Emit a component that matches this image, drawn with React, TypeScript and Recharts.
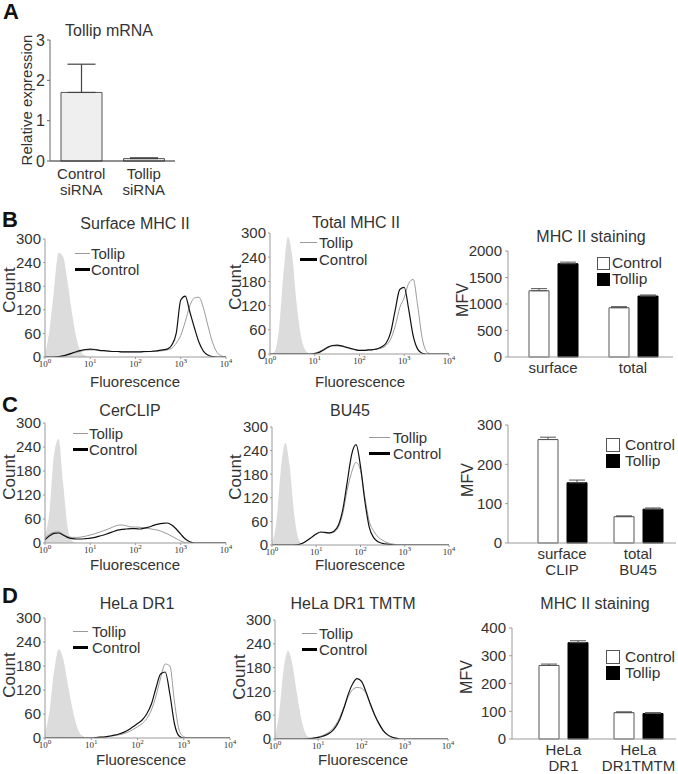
import React from "react";
import {
  ComposedChart,
  Area,
  Line,
  XAxis,
  YAxis,
  BarChart,
  Bar,
  ErrorBar,
} from "recharts";

const FONT = '"Liberation Sans", Arial, Helvetica, sans-serif';
const INK = "#333";
const AXIS = "#9a9a9a";

// fluorescence grid, 10 steps per decade
const FLUOR = [
  1, 1.26, 1.58, 2, 2.51, 3.16, 3.98, 5.01, 6.31, 7.94,
  10, 12.6, 15.8, 20, 25.1, 31.6, 39.8, 50.1, 63.1, 79.4,
  100, 126, 158, 200, 251, 316, 398, 501, 631, 794,
  1000, 1259, 1585, 1995, 2512, 3162, 3981, 5012, 6310, 7943, 10000,
];
const LOG_TICKS = [1, 10, 100, 1000, 10000];
const COUNT_TICKS = [0, 60, 120, 180, 240, 300];

// B: surface MHC II
const B_SURF_ISO = [5, 70, 170, 265, 255, 190, 110, 45, 12, 3, 0, 0, 0, 0, 0, 0, 0, 0, 0, 0, 0, 0, 0, 0, 0, 0, 0, 0, 0, 0, 0, 0, 0, 0, 0, 0, 0, 0, 0, 0, 0];
const B_SURF_TOL = [0, 0, 0, 1, 3, 6, 9, 12, 15, 17, 18, 18, 17, 16, 15, 14, 14, 13, 13, 13, 13, 13, 13, 14, 14, 15, 16, 18, 22, 35, 55, 90, 130, 150, 152, 125, 80, 38, 12, 3, 0];
const B_SURF_CTRL = [0, 0, 0, 1, 3, 6, 10, 14, 17, 19, 20, 19, 17, 16, 15, 14, 14, 13, 13, 13, 13, 13, 14, 14, 15, 16, 18, 20, 30, 60, 145, 155, 115, 75, 38, 15, 5, 1, 0, 0, 0];
// B: total MHC II
const B_TOT_ISO = [0, 5, 60, 200, 290, 240, 120, 40, 8, 0, 0, 0, 0, 0, 0, 0, 0, 0, 0, 0, 0, 0, 0, 0, 0, 0, 0, 0, 0, 0, 0, 0, 0, 0, 0, 0, 0, 0, 0, 0, 0];
const B_TOT_TOL = [0, 0, 0, 0, 0, 0, 0, 0, 0, 0, 2, 6, 12, 18, 20, 20, 19, 16, 13, 11, 9, 9, 10, 11, 12, 15, 22, 38, 70, 115, 140, 175, 185, 120, 40, 6, 0, 0, 0, 0, 0];
const B_TOT_CTRL = [0, 0, 0, 0, 0, 0, 0, 0, 0, 0, 1, 4, 10, 17, 21, 22, 20, 17, 14, 11, 9, 9, 10, 11, 13, 18, 28, 55, 110, 160, 165, 110, 45, 12, 2, 0, 0, 0, 0, 0, 0];
// C: CerCLIP
const C_CLIP_ISO = [20, 80, 220, 260, 150, 40, 5, 0, 0, 0, 0, 0, 0, 0, 0, 0, 0, 0, 0, 0, 0, 0, 0, 0, 0, 0, 0, 0, 0, 0, 0, 0, 0, 0, 0, 0, 0, 0, 0, 0, 0];
const C_CLIP_TOL = [12, 22, 27, 28, 22, 16, 14, 14, 15, 17, 20, 23, 27, 31, 35, 40, 44, 45, 43, 40, 40, 39, 38, 36, 34, 32, 28, 23, 17, 11, 5, 1, 0, 0, 0, 0, 0, 0, 0, 0, 0];
const C_CLIP_CTRL = [8, 18, 24, 25, 20, 14, 11, 10, 10, 11, 12, 14, 17, 20, 24, 28, 32, 34, 35, 36, 36, 35, 37, 40, 44, 47, 49, 50, 45, 35, 22, 10, 3, 0, 0, 0, 0, 0, 0, 0, 0];
// C: BU45
const C_BU_ISO = [5, 60, 190, 260, 200, 80, 15, 0, 0, 0, 0, 0, 0, 0, 0, 0, 0, 0, 0, 0, 0, 0, 0, 0, 0, 0, 0, 0, 0, 0, 0, 0, 0, 0, 0, 0, 0, 0, 0, 0, 0];
const C_BU_TOL = [0, 0, 0, 0, 0, 0, 1, 5, 12, 20, 28, 32, 31, 30, 33, 45, 80, 140, 185, 210, 190, 120, 60, 35, 20, 12, 6, 3, 1, 0, 0, 0, 0, 0, 0, 0, 0, 0, 0, 0, 0];
const C_BU_CTRL = [0, 0, 0, 0, 0, 0, 1, 5, 12, 20, 28, 33, 32, 31, 35, 50, 90, 160, 230, 255, 200, 110, 45, 18, 8, 4, 2, 1, 0, 0, 0, 0, 0, 0, 0, 0, 0, 0, 0, 0, 0];
// D: HeLa DR1
const D_DR1_ISO = [10, 70, 170, 222, 195, 130, 70, 25, 6, 1, 0, 0, 0, 0, 0, 0, 0, 0, 0, 0, 0, 0, 0, 0, 0, 0, 0, 0, 0, 0, 0, 0, 0, 0, 0, 0, 0, 0, 0, 0, 0];
const D_DR1_TOL = [0, 0, 0, 0, 0, 0, 0, 0, 0, 0, 0, 1, 2, 2, 4, 6, 8, 11, 15, 21, 28, 36, 48, 70, 105, 150, 185, 180, 90, 20, 3, 0, 0, 0, 0, 0, 0, 0, 0, 0, 0];
const D_DR1_CTRL = [0, 0, 0, 0, 0, 0, 0, 0, 0, 0, 0, 1, 2, 3, 5, 7, 10, 14, 20, 28, 36, 45, 60, 85, 125, 160, 165, 110, 35, 5, 0, 0, 0, 0, 0, 0, 0, 0, 0, 0, 0];
// D: HeLa DR1 TMTM
const D_TM_ISO = [5, 70, 175, 222, 190, 120, 55, 15, 3, 0, 0, 0, 0, 0, 0, 0, 0, 0, 0, 0, 0, 0, 0, 0, 0, 0, 0, 0, 0, 0, 0, 0, 0, 0, 0, 0, 0, 0, 0, 0, 0];
const D_TM_TOL = [0, 0, 0, 0, 0, 0, 0, 1, 2, 3, 5, 9, 14, 22, 35, 55, 82, 108, 125, 130, 128, 115, 88, 60, 38, 20, 10, 4, 1, 0, 0, 0, 0, 0, 0, 0, 0, 0, 0, 0, 0];
const D_TM_CTRL = [0, 0, 0, 0, 0, 0, 0, 0, 1, 2, 4, 7, 11, 18, 30, 50, 80, 115, 140, 152, 145, 120, 90, 62, 40, 22, 11, 5, 2, 0, 0, 0, 0, 0, 0, 0, 0, 0, 0, 0, 0];

// A: Tollip mRNA
const A_CATS = ["Control\nsiRNA", "Tollip\nsiRNA"];
const A_VALUES = [1.7, 0.06];
const A_ERR = [0.7, 0.02];
const A_TICKS = [0, 1, 2, 3];

// MFV bar panels
const B_CATS = ["surface", "total"];
const B_CTRL = [1250, 930];
const B_CTRL_ERR = [40, 20];
const B_TOL = [1760, 1150];
const B_TOL_ERR = [30, 20];
const B_TICKS = [0, 500, 1000, 1500, 2000];

const C_CATS = ["surface\nCLIP", "total\nBU45"];
const C_CTRL = [263, 67];
const C_CTRL_ERR = [6, 2];
const C_TOL = [153, 86];
const C_TOL_ERR = [7, 3];
const C_TICKS = [0, 100, 200, 300];

const D_CATS = ["HeLa\nDR1", "HeLa\nDR1TMTM"];
const D_CTRL = [265, 95];
const D_CTRL_ERR = [5, 3];
const D_TOL = [347, 92];
const D_TOL_ERR = [7, 3];
const D_TICKS = [0, 100, 200, 300, 400];

function LogTick(props: any) {
  const { x, y, payload } = props;
  const exp = Math.round(Math.log10(payload.value));
  return (
    <text x={x} y={y + 6} textAnchor="middle" fill={INK} fontSize={9} fontFamily='"Liberation Serif", "Times New Roman", serif'>
      10
      <tspan dy={-4} fontSize={7}>
        {exp}
      </tspan>
    </text>
  );
}

function makeCatTick(first: number, next: number) {
  return function CatTick(props: any) {
    const { x, y, payload } = props;
    const lines = String(payload.value).split("\n");
    return (
      <text x={x} y={y} textAnchor="middle" fill={INK} fontSize={15} fontFamily={FONT}>
        {lines.map((l, i) => (
          <tspan key={i} x={x} dy={i === 0 ? first : next}>
            {l}
          </tspan>
        ))}
      </text>
    );
  };
}
const MfvTick = makeCatTick(14, 16);
const MrnaTick = makeCatTick(16, 16);

function Hist({ x, y, w, h, iso, tollip, control }: any) {
  const data = FLUOR.map((f, i) => ({ f, iso: iso[i], tollip: tollip[i], control: control[i] }));
  const yw = 40;
  const mt = 10;
  const xh = 16;
  const mr = 8;
  return (
    <div style={{ position: "absolute", left: x - yw, top: y - mt }}>
      <ComposedChart width={yw + w + mr} height={mt + h + xh} data={data} margin={{ top: mt, right: mr, left: 0, bottom: 0 }}>
        <XAxis
          dataKey="f"
          type="number"
          scale="log"
          domain={[1, 10000]}
          ticks={LOG_TICKS}
          interval={0}
          allowDataOverflow
          height={xh}
          stroke={AXIS}
          tickSize={2}
          tick={<LogTick />}
        />
        <YAxis
          type="number"
          domain={[0, 300]}
          ticks={COUNT_TICKS}
          interval={0}
          allowDataOverflow
          width={yw}
          stroke={AXIS}
          tickSize={2}
          tickMargin={2}
          tick={{ fill: INK, fontSize: 15, fontFamily: FONT }}
        />
        <Area dataKey="iso" type="monotone" fill="#dcdcdc" fillOpacity={1} stroke="none" isAnimationActive={false} />
        <Line dataKey="tollip" type="monotone" stroke="#9a9a9a" strokeWidth={1} dot={false} isAnimationActive={false} />
        <Line dataKey="control" type="monotone" stroke="#111" strokeWidth={1.2} dot={false} isAnimationActive={false} />
      </ComposedChart>
    </div>
  );
}

function MfvBars({ x, y, w, h, cats, ctrl, ctrlErr, tol, tolErr, ticks, padL }: any) {
  const data = cats.map((c: string, i: number) => ({
    c,
    ctrl: ctrl[i],
    ctrlErr: [0, ctrlErr[i]],
    tol: tol[i],
    tolErr: [0, tolErr[i]],
  }));
  const yw = 50;
  const mt = 10;
  const xh = 40;
  return (
    <div style={{ position: "absolute", left: x - yw, top: y - mt }}>
      <BarChart
        width={yw + w}
        height={mt + h + xh}
        data={data}
        margin={{ top: mt, right: 0, left: 0, bottom: 0 }}
        barGap={9}
      >
        <XAxis
          dataKey="c"
          stroke={AXIS}
          tickLine={false}
          tickSize={0}
          height={xh}
          interval={0}
          padding={{ left: padL, right: 0 }}
          tick={<MfvTick />}
        />
        <YAxis
          type="number"
          domain={[0, ticks[ticks.length - 1]]}
          ticks={ticks}
          interval={0}
          width={yw}
          stroke={AXIS}
          tickSize={3}
          tickMargin={3}
          tick={{ fill: INK, fontSize: 15, fontFamily: FONT }}
        />
        <Bar dataKey="ctrl" fill="#fff" stroke="#555" strokeWidth={1} barSize={20} isAnimationActive={false}>
          <ErrorBar dataKey="ctrlErr" width={8} stroke="#555" strokeWidth={1} direction="y" />
        </Bar>
        <Bar dataKey="tol" fill="#000" stroke="#000" strokeWidth={1} barSize={20} isAnimationActive={false}>
          <ErrorBar dataKey="tolErr" width={8} stroke="#555" strokeWidth={1} direction="y" />
        </Bar>
      </BarChart>
    </div>
  );
}

function MrnaBars() {
  const data = A_CATS.map((c, i) => ({ c, v: A_VALUES[i], err: [0, A_ERR[i]] }));
  const x = 50;
  const y = 40;
  const w = 125;
  const h = 121;
  const yw = 40;
  const mt = 10;
  const xh = 42;
  return (
    <div style={{ position: "absolute", left: x - yw, top: y - mt }}>
      <BarChart width={yw + w} height={mt + h + xh} data={data} margin={{ top: mt, right: 0, left: 0, bottom: 0 }}>
        <XAxis dataKey="c" stroke="#222" tickLine={false} tickSize={0} height={xh} interval={0} tick={<MrnaTick />} />
        <YAxis
          type="number"
          domain={[0, 3]}
          ticks={A_TICKS}
          interval={0}
          width={yw}
          stroke="#666"
          tickSize={3}
          tickMargin={2}
          tick={{ fill: INK, fontSize: 16, fontFamily: FONT }}
        />
        <Bar dataKey="v" fill="#efefef" stroke="#555" strokeWidth={1} barSize={41} isAnimationActive={false}>
          <ErrorBar dataKey="err" width={14} stroke="#444" strokeWidth={1.2} direction="y" />
        </Bar>
      </BarChart>
    </div>
  );
}

function T({ x, y, children, size = 16, weight = 400, rotate = false, anchor = "middle", color = INK }: any) {
  const tx = anchor === "middle" ? "-50%" : "0";
  return (
    <div
      style={{
        position: "absolute",
        left: x,
        top: y,
        transform: `translate(${tx}, -50%)${rotate ? " rotate(-90deg)" : ""}`,
        fontSize: size,
        fontWeight: weight,
        color,
        lineHeight: 1,
        whiteSpace: "nowrap",
      }}
    >
      {children}
    </div>
  );
}

function LineKey({ x1, x2, tY, cY, tx }: any) {
  return (
    <>
      <div style={{ position: "absolute", left: x1, top: tY, width: x2 - x1, height: 1, background: "#9a9a9a" }} />
      <div style={{ position: "absolute", left: x1, top: cY - 1, width: x2 - x1, height: 2.5, background: "#000" }} />
      <T x={tx} y={tY} size={15} anchor="start">Tollip</T>
      <T x={tx} y={cY} size={15} anchor="start">Control</T>
    </>
  );
}

function BoxKey({ x, cY, tY, tx, s }: any) {
  return (
    <>
      <div style={{ position: "absolute", left: x, top: cY - s / 2, width: s - 2, height: s - 2, border: "1px solid #555", background: "#fff" }} />
      <div style={{ position: "absolute", left: x, top: tY - s / 2, width: s, height: s, background: "#000" }} />
      <T x={tx} y={cY} size={15.5} anchor="start">Control</T>
      <T x={tx} y={tY} size={15.5} anchor="start">Tollip</T>
    </>
  );
}

export default function App() {
  return (
    <div
      style={{
        position: "absolute",
        left: 0,
        top: 0,
        width: 678,
        height: 774,
        background: "#fff",
        fontFamily: FONT,
        overflow: "hidden",
      }}
    >
      {/* A */}
      <MrnaBars />
      <T x={3} y={12} size={22} weight={700} anchor="start" color="#111">A</T>
      <T x={109} y={31} size={16}>Tollip mRNA</T>
      <T x={26} y={100} size={15} rotate>Relative expression</T>

      {/* B */}
      <Hist x={45} y={239} w={181} h={118} iso={B_SURF_ISO} tollip={B_SURF_TOL} control={B_SURF_CTRL} />
      <Hist x={270} y={233} w={179} h={121} iso={B_TOT_ISO} tollip={B_TOT_TOL} control={B_TOT_CTRL} />
      <MfvBars x={508} y={251} w={165} h={106} cats={B_CATS} ctrl={B_CTRL} ctrlErr={B_CTRL_ERR} tol={B_TOL} tolErr={B_TOL_ERR} ticks={B_TICKS} padL={5} />
      <T x={2} y={220} size={22} weight={700} anchor="start" color="#111">B</T>
      <T x={135} y={224} size={16}>Surface MHC II</T>
      <T x={356} y={223} size={16}>Total MHC II</T>
      <T x={591} y={237} size={16}>MHC II staining</T>
      <T x={9} y={290} size={17} rotate>Count</T>
      <T x={235} y={287} size={17} rotate>Count</T>
      <T x={463} y={300} size={16} rotate>MFV</T>
      <T x={135} y={381} size={15}>Fluorescence</T>
      <T x={360} y={381} size={15}>Fluorescence</T>
      <LineKey x1={75} x2={90} tY={253} cY={269} tx={91} />
      <LineKey x1={300} x2={317} tY={242} cY={259} tx={319} />
      <BoxKey x={597} s={13} cY={263} tY={279} tx={612} />

      {/* C */}
      <Hist x={45} y={423} w={181} h={120} iso={C_CLIP_ISO} tollip={C_CLIP_TOL} control={C_CLIP_CTRL} />
      <Hist x={272} y={427} w={177} h={118} iso={C_BU_ISO} tollip={C_BU_TOL} control={C_BU_CTRL} />
      <MfvBars x={508} y={425} w={168} h={118} cats={C_CATS} ctrl={C_CTRL} ctrlErr={C_CTRL_ERR} tol={C_TOL} tolErr={C_TOL_ERR} ticks={C_TICKS} padL={16} />
      <T x={2} y={405} size={22} weight={700} anchor="start" color="#111">C</T>
      <T x={130} y={411} size={16}>CerCLIP</T>
      <T x={350} y={411} size={16}>BU45</T>
      <T x={9} y={477} size={17} rotate>Count</T>
      <T x={235} y={477} size={17} rotate>Count</T>
      <T x={468} y={480} size={16} rotate>MFV</T>
      <T x={135} y={564} size={15}>Fluorescence</T>
      <T x={360} y={564} size={15}>Fluorescence</T>
      <LineKey x1={73} x2={88} tY={433} cY={449} tx={89} />
      <LineKey x1={369} x2={390} tY={437} cY={453} tx={393} />
      <BoxKey x={606} s={14} cY={445} tY={461} tx={625} />

      {/* D */}
      <Hist x={45} y={618} w={185} h={120} iso={D_DR1_ISO} tollip={D_DR1_TOL} control={D_DR1_CTRL} />
      <Hist x={275} y={620} w={173} h={119} iso={D_TM_ISO} tollip={D_TM_TOL} control={D_TM_CTRL} />
      <MfvBars x={512} y={628} w={164} h={111} cats={D_CATS} ctrl={D_CTRL} ctrlErr={D_CTRL_ERR} tol={D_TOL} tolErr={D_TOL_ERR} ticks={D_TICKS} padL={14} />
      <T x={2} y={596} size={22} weight={700} anchor="start" color="#111">D</T>
      <T x={137} y={604} size={16}>HeLa DR1</T>
      <T x={353} y={604} size={16}>HeLa DR1 TMTM</T>
      <T x={595} y={604} size={16}>MHC II staining</T>
      <T x={9} y={675} size={17} rotate>Count</T>
      <T x={239} y={677} size={17} rotate>Count</T>
      <T x={467} y={677} size={16} rotate>MFV</T>
      <T x={141} y={759} size={15}>Fluorescence</T>
      <T x={363} y={759} size={15}>Fluorescence</T>
      <LineKey x1={73} x2={88} tY={631} cY={647} tx={92} />
      <LineKey x1={302} x2={317} tY={633} cY={649} tx={319} />
      <BoxKey x={606} s={14} cY={657} tY={673} tx={625} />
    </div>
  );
}
